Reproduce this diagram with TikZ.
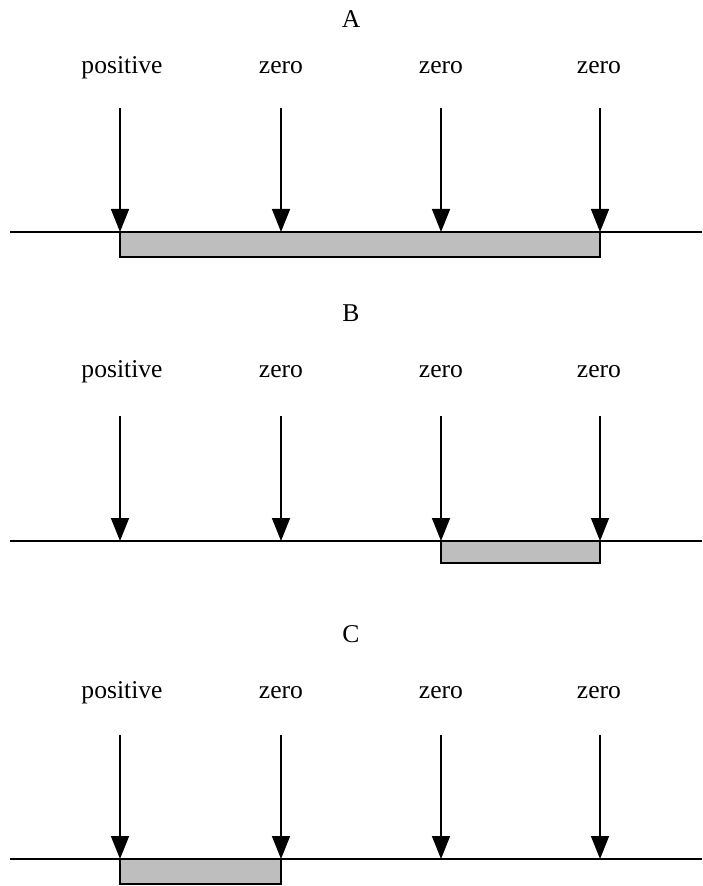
\documentclass[tikz,border=0pt]{standalone}
\usepackage{fontspec}
\setmainfont{Liberation Serif}
\usetikzlibrary{arrows.meta}
\definecolor{barfill}{RGB}{190,190,190}

\begin{document}
\begin{tikzpicture}[x=0.5pt, y=-0.5pt, line width=0.8pt,
    lab/.style={anchor=base, font=\fontsize{12.8}{15}\selectfont},
    ray/.style={-{Triangle[length=11.5pt, width=9pt]}},
    bar/.style={draw, fill=barfill}]
    \useasboundingbox (0,0) rectangle (702,886);

    % Panel A
    \node [lab] (titleA) at (351,28) {A};
    \node [lab] (posA) at (122,74) {positive};
    \node [lab] (zeroA1) at (281,74) {zero};
    \node [lab] (zeroA2) at (441,74) {zero};
    \node [lab] (zeroA3) at (599,74) {zero};
    \coordinate (lineAL) at (10,232);
    \coordinate (lineAR) at (702,232);
    \coordinate (barA) at (600,257);
    \draw [bar] (120,232) rectangle (barA);
    \draw (lineAL) -- (lineAR);
    \draw [ray] (120,108) -- (120,232);
    \draw [ray] (281,108) -- (281,232);
    \draw [ray] (441,108) -- (441,232);
    \draw [ray] (600,108) -- (600,232);

    % Panel B
    \node [lab] (titleB) at (351,322) {B};
    \node [lab] (posB) at (122,378) {positive};
    \node [lab] (zeroB1) at (281,378) {zero};
    \node [lab] (zeroB2) at (441,378) {zero};
    \node [lab] (zeroB3) at (599,378) {zero};
    \coordinate (lineBL) at (10,541);
    \coordinate (lineBR) at (702,541);
    \coordinate (barB) at (600,563);
    \draw [bar] (441,541) rectangle (barB);
    \draw (lineBL) -- (lineBR);
    \draw [ray] (120,416) -- (120,541);
    \draw [ray] (281,416) -- (281,541);
    \draw [ray] (441,416) -- (441,541);
    \draw [ray] (600,416) -- (600,541);

    % Panel C
    \node [lab] (titleC) at (351,642) {C};
    \node [lab] (posC) at (122,698) {positive};
    \node [lab] (zeroC1) at (281,698) {zero};
    \node [lab] (zeroC2) at (441,698) {zero};
    \node [lab] (zeroC3) at (599,698) {zero};
    \coordinate (lineCL) at (10,859);
    \coordinate (lineCR) at (702,859);
    \coordinate (barC) at (281,884);
    \draw [bar] (120,859) rectangle (barC);
    \draw (lineCL) -- (lineCR);
    \draw [ray] (120,735) -- (120,859);
    \draw [ray] (281,735) -- (281,859);
    \draw [ray] (441,735) -- (441,859);
    \draw [ray] (600,735) -- (600,859);
\end{tikzpicture}
\end{document}
